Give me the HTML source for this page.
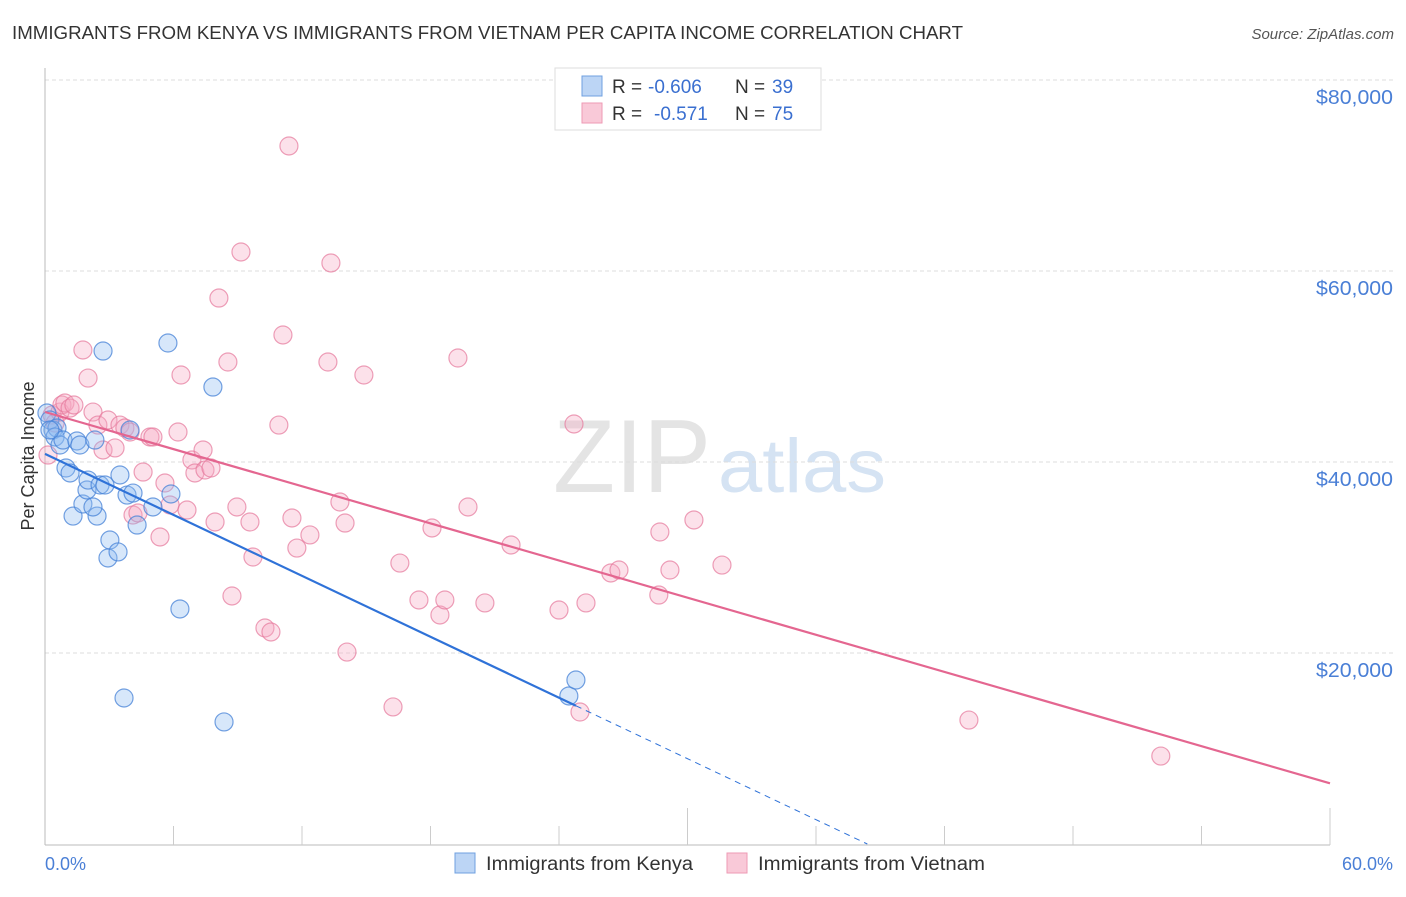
<!DOCTYPE html>
<html><head><meta charset="utf-8"><style>
body{margin:0;background:#fff;font-family:"Liberation Sans",sans-serif;}
svg text{font-family:"Liberation Sans",sans-serif;}
</style></head><body>
<svg id="c" width="1406" height="892" xmlns="http://www.w3.org/2000/svg">
<text x="12" y="39" font-size="18.5" fill="#333" textLength="951" lengthAdjust="spacingAndGlyphs">IMMIGRANTS FROM KENYA VS IMMIGRANTS FROM VIETNAM PER CAPITA INCOME CORRELATION CHART</text>
<text x="1394" y="39" font-size="15" fill="#555" font-style="italic" text-anchor="end">Source: ZipAtlas.com</text>
<text x="553" y="492" font-size="104" fill="#e4e4e4" font-family="Liberation Serif" textLength="158" lengthAdjust="spacingAndGlyphs">ZIP</text>
<text x="718" y="492" font-size="76" fill="#d5e3f3" textLength="168" lengthAdjust="spacingAndGlyphs">atlas</text>
<g id="grid"></g><g id="axes"></g><g id="pts"></g><g id="lines"></g>
<text transform="translate(34,456) rotate(-90)" font-size="18" fill="#333" text-anchor="middle">Per Capita Income</text>
<text x="45" y="870" font-size="18" fill="#4a7fd6">0.0%</text>
<text x="1393" y="870" font-size="18" fill="#4a7fd6" text-anchor="end">60.0%</text>
<g>
<rect x="555" y="68" width="266" height="62" fill="#fff" stroke="#ddd"/>
<rect x="582" y="76" width="20" height="20" fill="#bcd5f5" stroke="#6fa0e0"/>
<rect x="582" y="103" width="20" height="20" fill="#f9c9d8" stroke="#ee9ab4"/>
<text x="612" y="93" font-size="19" fill="#333">R =</text>
<text x="648" y="93" font-size="19" fill="#3a6fd0">-0.606</text>
<text x="735" y="93" font-size="19" fill="#333">N =</text>
<text x="772" y="93" font-size="19" fill="#3a6fd0">39</text>
<text x="612" y="120" font-size="19" fill="#333">R =</text>
<text x="654" y="120" font-size="19" fill="#3a6fd0">-0.571</text>
<text x="735" y="120" font-size="19" fill="#333">N =</text>
<text x="772" y="120" font-size="19" fill="#3a6fd0">75</text>
</g>
<g><rect x="455" y="853" width="20" height="20" fill="#bcd5f5" stroke="#6fa0e0"/><text x="486" y="870" font-size="19" fill="#333" textLength="207" lengthAdjust="spacingAndGlyphs">Immigrants from Kenya</text></g>
<g><rect x="727" y="853" width="20" height="20" fill="#f9c9d8" stroke="#ee9ab4"/><text x="758" y="870" font-size="19" fill="#333" textLength="227" lengthAdjust="spacingAndGlyphs">Immigrants from Vietnam</text></g>
</svg>
<script>
const yTicks=[20000,40000,60000,80000];
const yTickLabels=["$20,000","$40,000","$60,000","$80,000"];
const kenyaX=[0.09,0.23,0.37,0.56,0.47,0.70,0.84,0.98,1.17,1.31,1.49,1.63,1.77,1.96,2.01,2.33,2.43,2.24,2.57,2.71,2.80,3.03,2.94,3.41,3.50,3.69,3.83,3.97,4.11,4.30,5.04,5.74,5.88,6.30,7.84,8.36,24.46,24.79,0.23];
const kenyaY=[45130,44400,43350,43560,42620,41780,42300,39370,38850,34340,42200,41780,35600,37070,38110,42300,34340,35290,37590,51620,37590,31830,29950,30580,38640,15290,36540,43350,36750,33400,35290,52460,36650,24610,47850,12780,15500,17170,43350];
const vietX=[0.14,0.33,0.47,0.70,0.79,0.93,1.17,1.35,1.77,2.01,2.24,2.47,2.71,2.94,3.27,3.50,3.73,3.97,4.11,4.34,4.58,4.90,5.04,5.37,5.60,5.84,6.21,6.35,6.63,6.86,7.00,7.38,7.47,7.75,7.94,8.12,8.54,8.73,8.96,9.15,9.57,9.71,10.27,10.55,10.92,11.11,11.53,11.76,11.39,12.37,13.21,13.35,13.77,14.01,14.10,14.89,16.25,16.57,17.46,18.07,18.44,18.67,19.28,19.75,20.54,21.76,24.00,24.70,25.26,26.42,26.80,28.66,28.71,29.18,30.30,31.61,43.14,52.10,24.98];
const vietY=[40730,44920,44080,45230,45970,46180,45650,45970,51730,48790,45230,43870,41260,44400,41470,43870,43560,43140,34450,34660,38950,42620,42620,32150,37800,35500,43140,49110,34970,40210,38850,41260,39160,39370,33720,57170,50470,25970,35290,61990,33720,30050,22620,22200,43870,53300,34140,30990,73090,32360,50470,60840,35810,33610,20100,49110,14350,29420,25550,33090,23980,25550,50890,35290,25240,31310,24500,43980,25240,28380,28690,26070,32670,28690,33930,29210,12980,9210,13820];
const NS='http://www.w3.org/2000/svg';
const X=v=>45+v*(1285/60), Y=v=>844-v*(764/80000);
function mk(t,a,p){const e=document.createElementNS(NS,t);for(const k in a)e.setAttribute(k,a[k]);document.getElementById(p).appendChild(e);return e;}
yTicks.forEach((t,i)=>{
 const g=mk('line',{x1:45,x2:1393,y1:Y(t),y2:Y(t),stroke:'#ddd','stroke-dasharray':'4,3'},'grid');
 
 
 const l=mk('text',{x:1393,y:Y(t)+24,'font-size':20,fill:'#4a7fd6','text-anchor':'end',textLength:77,lengthAdjust:'spacingAndGlyphs'},'grid');l.textContent=yTickLabels[i];
 
 
});
let ax=mk('line',{x1:45,x2:45,y1:68,y2:845,stroke:'#bbb'},'axes');


ax=mk('line',{x1:45,x2:1330,y1:845,y2:845,stroke:'#bbb'},'axes');


for(let i=1;i<=10;i++){const tall=(i==5||i==10);const t=mk('line',{x1:X(i*6),x2:X(i*6),y1:tall?808:826,y2:845,stroke:'#ccc'},'axes');
 
 }
function pts(xs,ys,fill,stroke,name){xs.forEach((x,i)=>{const c=mk('circle',{cx:X(x),cy:Y(ys[i]),r:9,fill:fill,stroke:stroke,'stroke-width':1.2},'pts');
 
 });}
pts(vietX,vietY,'rgba(246,170,195,0.35)','rgba(230,120,155,0.7)','vietnam-point');
pts(kenyaX,kenyaY,'rgba(140,185,240,0.35)','rgba(70,130,215,0.75)','kenya-point');
function fit(xs,ys){const n=xs.length;let mx=0,my=0;xs.forEach((x,i)=>{mx+=x;my+=ys[i];});mx/=n;my/=n;let sxy=0,sxx=0;xs.forEach((x,i)=>{sxy+=(x-mx)*(ys[i]-my);sxx+=(x-mx)**2;});const b=sxy/sxx;return [my-b*mx,b];}
const [av,bv]=fit(vietX,vietY);
let l=mk('line',{x1:X(0),y1:Y(av),x2:X(60),y2:Y(av+bv*60),stroke:'#e46690','stroke-width':2.2},'lines');


const [ak,bk]=fit(kenyaX,kenyaY);
const kmax=Math.max(...kenyaX), kz=-ak/bk;
l=mk('line',{x1:X(0),y1:Y(ak),x2:X(kmax),y2:Y(ak+bk*kmax),stroke:'#2f72d8','stroke-width':2.2},'lines');


l=mk('line',{x1:X(kmax),y1:Y(ak+bk*kmax),x2:X(kz),y2:Y(0),stroke:'#2f72d8','stroke-width':1,'stroke-dasharray':'6,5'},'lines');


</script>
</body></html>
